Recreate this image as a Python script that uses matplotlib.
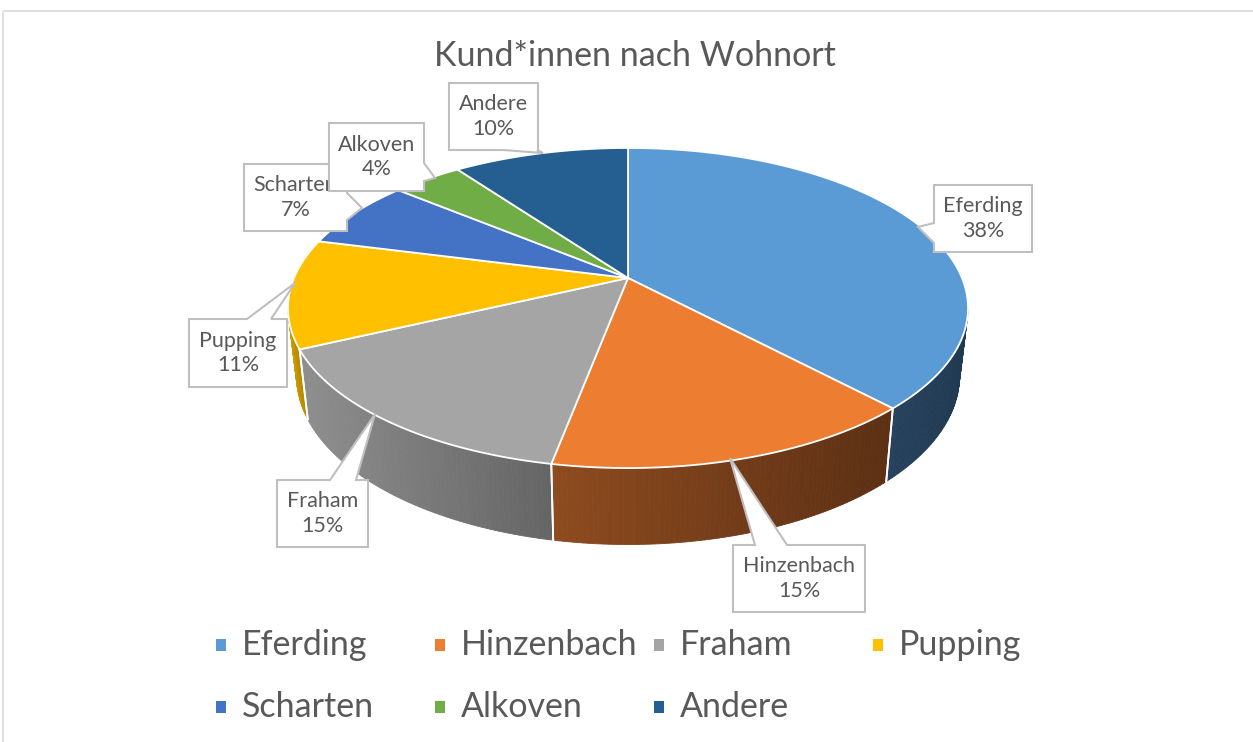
import numpy as np
import matplotlib
matplotlib.use("Agg")
import matplotlib.pyplot as plt
from matplotlib.patches import Polygon, Rectangle
from matplotlib.colors import to_rgb

# --- data ---
names = ["Eferding", "Hinzenbach", "Fraham", "Pupping", "Scharten", "Alkoven", "Andere"]
shares = [38, 15, 15, 11, 7, 4, 10]
top_colors = ["#5B9BD5", "#ED7D31", "#A5A5A5", "#FFC000", "#4472C4", "#70AD47", "#255E91"]
wall_colors = [("#27425E", "#213A52"), ("#8E4B1F", "#5C3014"), ("#8E8E8E", "#656565"),
               ("#C99A00", "#B08600"), ("#2F5290", "#27457A"), ("#4F7A32", "#42682A"),
               ("#1A4268", "#163857")]
title = "Kund*innen nach Wohnort"

# --- pie geometry (perspective ellipse, pixel units) ---
CX, CY = 628, 278
A, B, K = 334, 154.4, 0.1875
DEPTH = 66
SHRINK = 0.975  # bottom rim is a bit further from the eye
TEXT = "#595959"

plt.rcParams['font.family'] = ['Lato', 'DejaVu Sans']


def proj(t, bottom=False):
    u, v = np.sin(t), np.cos(t)
    den = 1 + K * v
    x, y = CX + A * u / den, CY - B * v / den
    if bottom:
        x = CX + (x - CX) * SHRINK
        y = CY + (y - CY) * SHRINK + DEPTH / den
    return x, y


def mix(c1, c2, f):
    a, b = np.array(to_rgb(c1)), np.array(to_rgb(c2))
    return tuple(a + (b - a) * f)


fig = plt.figure(figsize=(12.53, 7.42), dpi=100)
ax = fig.add_axes([0, 0, 1, 1])
ax.set_xlim(0, 1253)
ax.set_ylim(742, 0)
ax.axis("off")

# chart frame
ax.add_patch(Rectangle((3, 11), 1300, 800, fill=False, ec="#D9D9D9", lw=1.2, zorder=0))

fracs = np.array(shares) / sum(shares)
bounds = np.concatenate([[0], np.cumsum(fracs)]) * 2 * np.pi
t_right = np.arccos(-K)
t_left = 2 * np.pi - t_right

# side walls (visible front rim only)
for i in range(len(names)):
    a0, a1 = max(bounds[i], t_right), min(bounds[i + 1], t_left)
    if a1 <= a0:
        continue
    ts = np.linspace(a0, a1, max(int((a1 - a0) * 80), 4))
    xs_all = [proj(t)[0] for t in ts]
    xmin, xmax = min(xs_all), max(xs_all)
    c_left, c_right = wall_colors[i][0], wall_colors[i][1]
    for ta, tb in zip(ts[:-1], ts[1:]):
        pa, pb = proj(ta), proj(tb)
        qa, qb = proj(ta, True), proj(tb, True)
        xm = (pa[0] + pb[0]) / 2
        f = (xm - xmin) / (xmax - xmin + 1e-9)
        col = mix(c_left, c_right, f)
        ax.add_patch(Polygon([pa, pb, qb, qa], closed=True, fc=col, ec=col, lw=0.6, zorder=2))
    # white separators on walls
    for tb in (a0, a1):
        if t_right < tb < t_left:
            p, q = proj(tb), proj(tb, True)
            ax.plot([p[0], q[0]], [p[1], q[1]], color="white", lw=1.3, zorder=3)

# top faces
for i in range(len(names)):
    ts = np.linspace(bounds[i], bounds[i + 1], 200)
    pts = [(CX, CY)] + [proj(t) for t in ts]
    ax.add_patch(Polygon(pts, closed=True, fc=top_colors[i], ec="white", lw=1.3,
                         joinstyle="round", zorder=4))

# data callouts: box (x0, y0, x1, y1), edge with pointer, base span, tip
callouts = {
    "Eferding": ((934, 185, 1032, 252), "left", (223, 243), (918, 227)),
    "Hinzenbach": ((733, 545, 865, 612), "top", (755, 787), (730, 458)),
    "Fraham": ((277, 480, 368, 547), "top", (330, 356), (375, 414)),
    "Pupping": ((189, 319, 287, 387), "top", (247, 271), (295, 283)),
    "Scharten": ((244, 164, 347, 231), "right", (193, 220), (362, 208)),
    "Alkoven": ((329, 123, 424, 191), "right", (163, 181), (435, 178)),
    "Andere": ((449, 83, 538, 150), "bottom", (503, 537), (543, 153)),
}

for k, name in enumerate(names):
    (x0, y0, x1, y1), side, (b0, b1), tip = callouts[name]
    if side == "top":
        pts = [(x0, y0), (b0, y0), tip, (b1, y0), (x1, y0), (x1, y1), (x0, y1)]
    elif side == "bottom":
        pts = [(x0, y0), (x1, y0), (x1, y1), (b1, y1), tip, (b0, y1), (x0, y1)]
    elif side == "right":
        pts = [(x0, y0), (x1, y0), (x1, b0), tip, (x1, b1), (x1, y1), (x0, y1)]
    else:
        pts = [(x0, y0), (x1, y0), (x1, y1), (x0, y1), (x0, b1), tip, (x0, b0)]
    z = 6 + k
    ax.add_patch(Polygon(pts, closed=True, fc="white", ec="#BFBFBF", lw=1.5, zorder=z))
    ax.text((x0 + x1) / 2, (y0 + y1) / 2, f"{name}\n{shares[k]}%", ha="center", va="center",
            fontsize=15.5, color=TEXT, linespacing=1.3, zorder=z + 0.5)

# title
ax.text(635, 56, title, ha="center", va="center", fontsize=24.5, color=TEXT, zorder=20)

# legend
leg_x = [216, 435, 654, 873]
leg_y = [645, 707]
for k, name in enumerate(names):
    r, c = divmod(k, 4)
    x, y = leg_x[c], leg_y[r]
    ax.add_patch(Rectangle((x, y - 6), 10, 12, fc=top_colors[k], ec="none", zorder=20))
    ax.text(x + 26, y, name, ha="left", va="center", fontsize=24.5, color=TEXT, zorder=20)

fig.savefig("out.png", dpi=100)
